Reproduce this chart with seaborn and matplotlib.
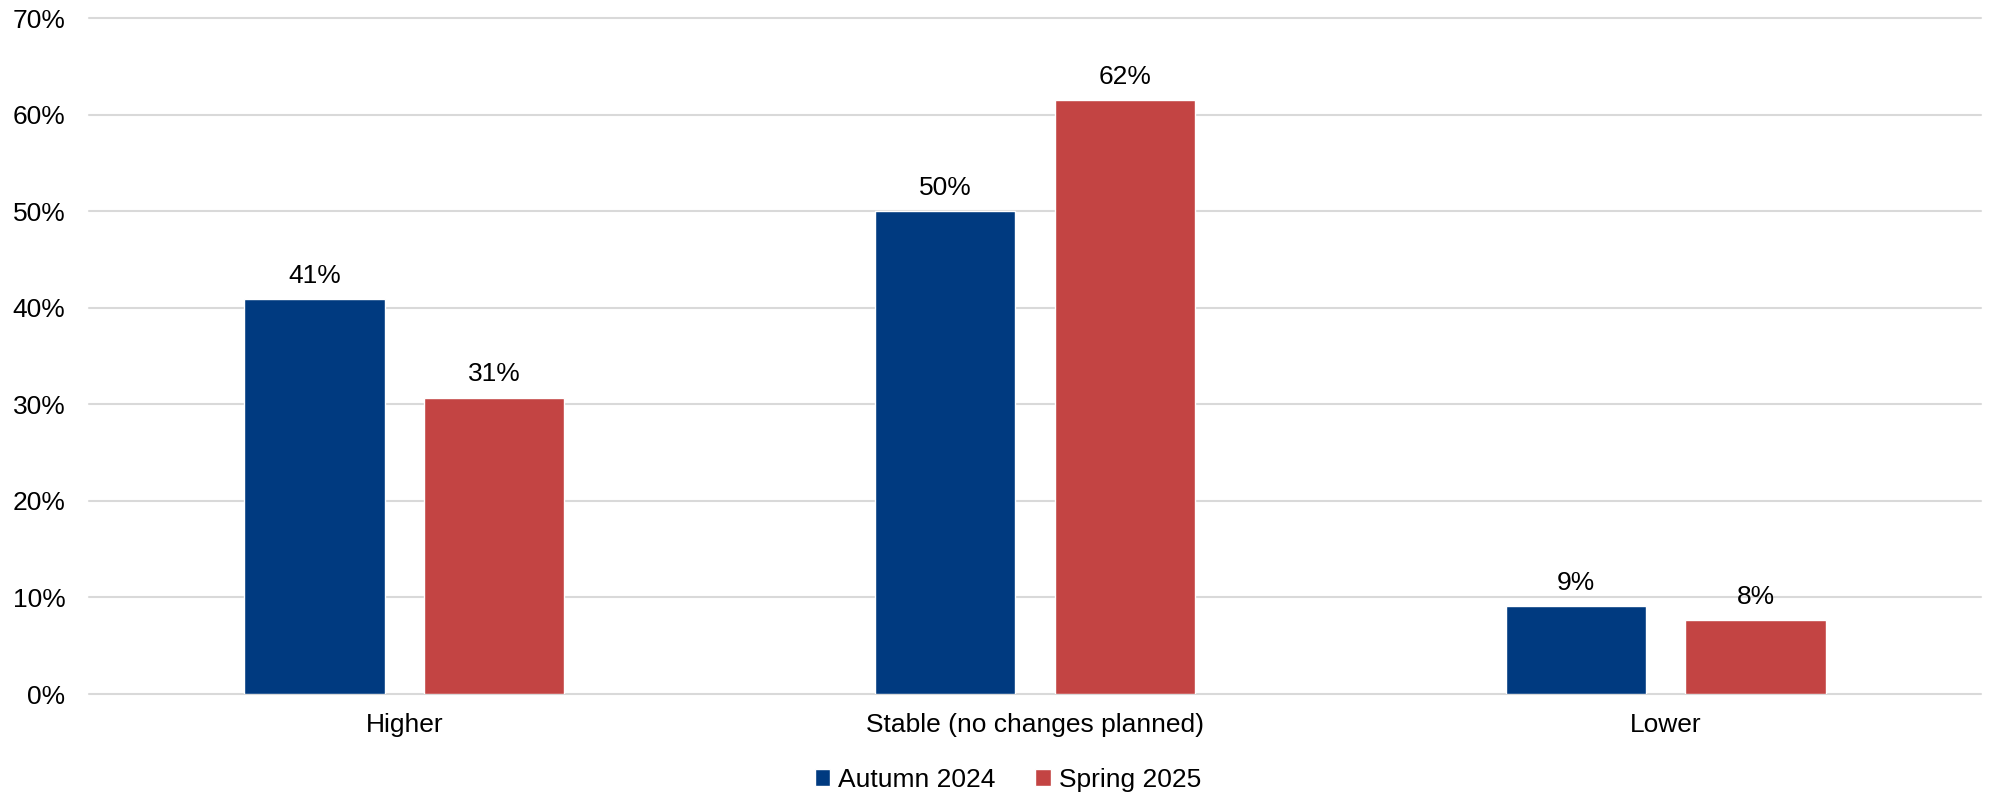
import pandas as pd
import matplotlib
matplotlib.use('Agg')
import matplotlib.pyplot as plt
import seaborn as sns

categories = ['Higher', 'Stable (no changes planned)', 'Lower']
series_names = ['Autumn 2024', 'Spring 2025']
autumn_2024 = [40.9, 50.0, 9.1]
spring_2025 = [30.7, 61.5, 7.7]
y_ticks = [0, 10, 20, 30, 40, 50, 60, 70]

colors = ['#003A80', '#C34443']

df = pd.DataFrame({
    'category': categories * 2,
    'period': [series_names[0]] * 3 + [series_names[1]] * 3,
    'value': autumn_2024 + spring_2025,
})

sns.set_style('white')
plt.rcParams['font.family'] = ['Liberation Sans', 'DejaVu Sans']
plt.rcParams['text.color'] = 'black'

W, H = 1989, 795
FS = 19
fig = plt.figure(figsize=(W / 100, H / 100), dpi=100)
ax = fig.add_axes([89 / W, 1 - 694 / H, (1981 - 89) / W, (694 - 18) / H])

sns.barplot(data=df, x='category', y='value', hue='period', order=categories,
            hue_order=series_names, palette=colors, width=0.57, gap=0.218,
            saturation=1, ax=ax, legend=True)

ax.set_ylim(0, 70)
ax.set_yticks(y_ticks)
ax.set_yticklabels([f'{t}%' for t in y_ticks])
ax.set_xlabel('')
ax.set_ylabel('')
for s in ax.spines.values():
    s.set_visible(False)
ax.yaxis.grid(True, color='#D9D9D9', linewidth=1.5)
ax.set_axisbelow(True)
for gl in ax.get_ygridlines():
    gl.set_clip_on(False)
ax.tick_params(axis='both', length=0, labelsize=FS, colors='black')
ax.tick_params(axis='y', pad=17)
ax.tick_params(axis='x', pad=14)

for cont in ax.containers:
    ax.bar_label(cont, labels=[f'{v:.0f}%' for v in cont.datavalues],
                 padding=8, fontsize=FS, color='black')

ax.legend(loc='center', bbox_to_anchor=(1008 / W, 1 - 780 / H), bbox_transform=fig.transFigure,
          ncol=2, frameon=False, fontsize=FS, handlelength=0.6, handleheight=0.6,
          handletextpad=0.3, columnspacing=1.5, borderaxespad=0)

fig.savefig('out.png', dpi=100)
